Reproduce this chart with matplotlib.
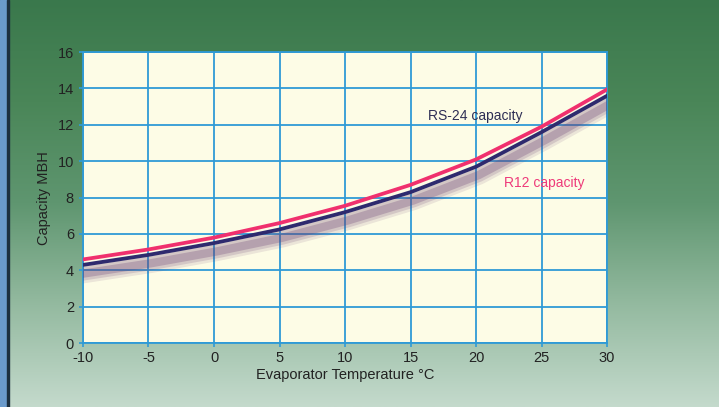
import numpy as np
import matplotlib
matplotlib.use("Agg")
import matplotlib.pyplot as plt
import matplotlib.patheffects as pe
from matplotlib.colors import LinearSegmentedColormap

# data
temps = [-10, -5, 0, 5, 10, 15, 20, 25, 30]
r12 = [4.6, 5.15, 5.8, 6.6, 7.55, 8.7, 10.1, 11.9, 13.95]
rs24 = [4.3, 4.85, 5.5, 6.25, 7.2, 8.3, 9.7, 11.6, 13.6]
xticks = [-10, -5, 0, 5, 10, 15, 20, 25, 30]
yticks = [0, 2, 4, 6, 8, 10, 12, 14, 16]

plt.rcParams["font.family"] = ["Liberation Sans", "DejaVu Sans"]
plt.rcParams["axes.unicode_minus"] = False

fig = plt.figure(figsize=(7.19, 4.07), dpi=100)

# green gradient background + blue strip on the left
bg = fig.add_axes([0, 0, 1, 1], zorder=0)
grad = np.linspace(0, 1, 256).reshape(-1, 1)
cmap = LinearSegmentedColormap.from_list(
    "bg", ["#3a784c", "#4a8658", "#5f9670", "#94baa0", "#c4dacc"])
bg.imshow(grad, aspect="auto", cmap=cmap, extent=[0, 1, 0, 1], origin="upper")
bg.axvspan(0, 0.010, color="#6a9acb")
bg.axvspan(0.010, 0.0125, color="#1c2f3f")
bg.set_xlim(0, 1); bg.set_ylim(0, 1)
bg.axis("off")

ax = fig.add_axes([0.1154, 0.157, 0.729, 0.715], zorder=1)
ax.set_facecolor("#fdfce6")
ax.set_xlim(-10, 30); ax.set_ylim(0, 16)
ax.set_xticks(xticks); ax.set_yticks(yticks)
ax.grid(True, color="#2f9ad6", lw=1.3)
ax.set_axisbelow(True)
for s in ax.spines.values():
    s.set_color("#2f9ad6"); s.set_linewidth(1.3)
ax.tick_params(colors="#2f9ad6", length=3, width=1.2, labelcolor="#222222",
               labelsize=10.5)
ax.tick_params(axis="x", pad=3)

# soft purple drop shadow under the curves
shadow = [pe.SimpleLineShadow(offset=(2, -6), shadow_color="#6a3f74", alpha=a, linewidth=w)
          for w, a in ((14, 0.12), (10, 0.18), (6, 0.28))] + [pe.Normal()]
ax.plot(temps, rs24, color="#2e2a6e", lw=2.7, path_effects=shadow, zorder=3)
ax.plot(temps, r12, color="#f0306e", lw=2.7, zorder=4)

ax.text(16.3, 12.25, "RS-24 capacity", color="#2e2f55", fontsize=10)
ax.text(22.1, 8.6, "R12 capacity", color="#ee3a7a", fontsize=10)

ax.set_xlabel("Evaporator Temperature \u00b0C", fontsize=10.5, color="#222222", labelpad=2)
ax.set_ylabel("Capacity MBH", fontsize=10.5, color="#222222", labelpad=5)

fig.savefig("out.png", dpi=100)
